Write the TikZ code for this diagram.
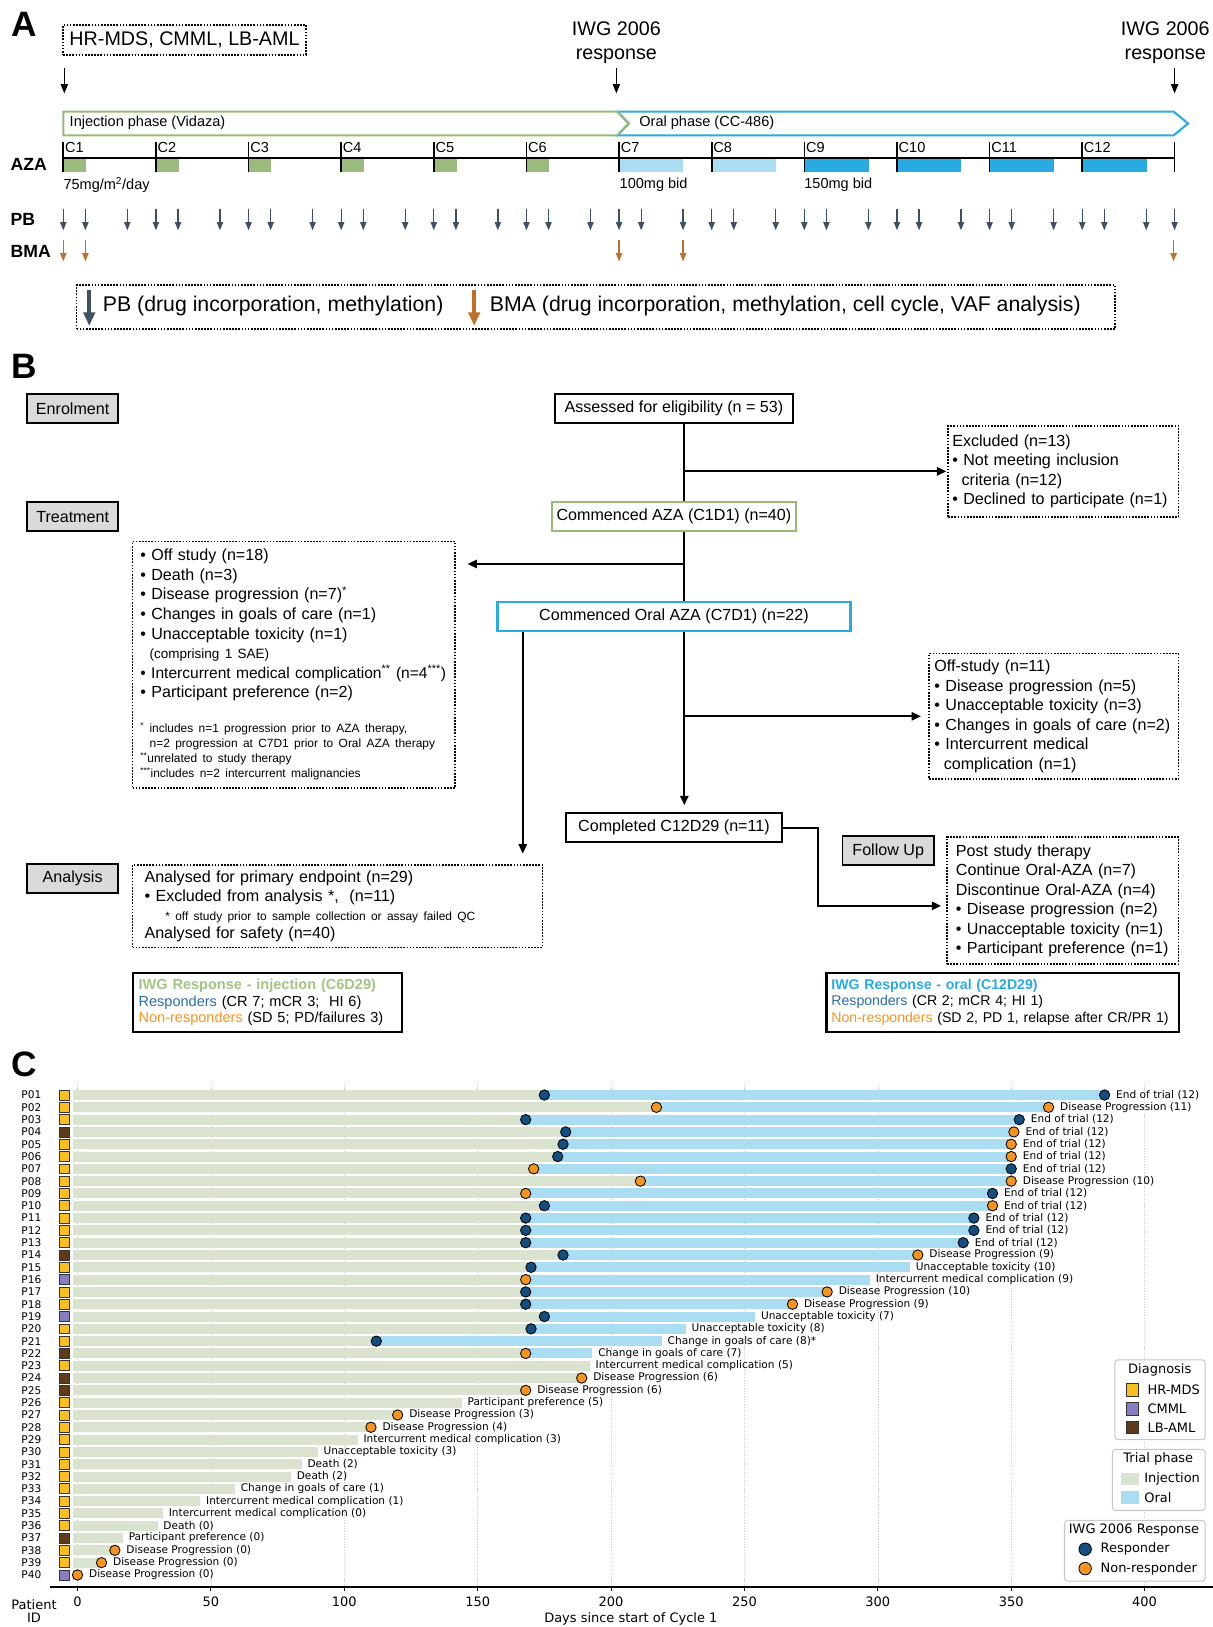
\documentclass[tikz,border=0pt]{standalone}
\usepackage{fontspec}
\setmainfont{Liberation Sans}
\newfontfamily\plotfont{DejaVu Sans}
\usepackage{tikz}
\usetikzlibrary{arrows.meta,positioning,calc}

\definecolor{injgreen}{RGB}{150,186,118}
\definecolor{azagreen}{RGB}{155,187,126}
\definecolor{oralblue}{RGB}{41,171,226}
\definecolor{orallight}{RGB}{170,221,242}
\definecolor{pbslate}{RGB}{62,80,100}
\definecolor{bmabrown}{RGB}{192,112,40}
\definecolor{stagegray}{RGB}{218,218,218}
\definecolor{respblue}{RGB}{20,78,128}
\definecolor{nonrorange}{RGB}{247,148,29}
\definecolor{txtgreen}{RGB}{160,196,130}
\definecolor{txtblue}{RGB}{46,108,165}
\definecolor{barinj}{RGB}{218,227,207}
\definecolor{baroral}{RGB}{170,220,242}
\definecolor{hrmds}{RGB}{250,190,30}
\definecolor{cmml}{RGB}{136,125,192}
\definecolor{lbaml}{RGB}{92,58,26}
\definecolor{gridgray}{RGB}{200,200,200}

\newcommand\fsPanel{\fontsize{34}{36}\selectfont\bfseries}
\newcommand\fsBig{\fontsize{19}{23}\selectfont}
\newcommand\fsKey{\fontsize{20.5}{24}\selectfont}
\newcommand\fsMid{\fontsize{14}{17}\selectfont}
\newcommand\fsRow{\fontsize{17}{20}\selectfont\bfseries}
\newcommand\fsFlow{\fontsize{15.5}{18.8}\selectfont}
\newcommand\fsSub{\fontsize{13}{15}\selectfont}
\newcommand\fsNote{\fontsize{11.5}{14.5}\selectfont}
\newcommand\fsIwg{\fontsize{14}{16.2}\selectfont}
\newcommand\fsPlot{\plotfont\fontsize{10.2}{12}\selectfont}
\newcommand\fsAxis{\plotfont\fontsize{12.5}{15}\selectfont}

\tikzset{
  panellabel/.style={anchor=west, inner sep=0pt, font=\fsPanel},
  rowlab/.style={anchor=west, inner sep=0pt, font=\fsRow},
  dotbox/.style={
    rectangle,
    draw=black,
    line width=1.6pt,
    dash pattern=on 1.6pt off 1.4pt,
    align=left,
    inner sep=0pt
  },
  flowbox/.style={
    rectangle,
    draw=black,
    line width=1.8pt,
    align=center,
    inner sep=0pt,
    minimum height=28pt,
    font=\fsFlow
  },
  stagebox/.style={
    rectangle,
    draw=black,
    line width=1.8pt,
    fill=stagegray,
    inner sep=0pt,
    minimum width=88pt,
    minimum height=28pt,
    font=\fsFlow
  },
  iwgbox/.style={
    rectangle,
    draw=black,
    line width=2.2pt,
    align=left,
    inner sep=0pt,
    font=\fsIwg
  },
  flowline/.style={-{Triangle[width=8pt,length=9pt]},line width=1.8pt},
  flowjoin/.style={line width=1.8pt},
  markarrow/.style={-{Triangle[width=7pt,length=9pt]},line width=1.3pt},
  pbarrow/.style={-{Triangle[width=6pt,length=8pt]},line width=1.3pt,draw=pbslate,fill=pbslate},
  bmaarrow/.style={-{Triangle[width=6pt,length=8pt]},line width=1.3pt,draw=bmabrown,fill=bmabrown},
  keyarrow/.style={-{Triangle[width=11pt,length=13pt]},line width=4pt},
  tline/.style={line width=1.6pt},
  gridline/.style={draw=gridgray,line width=0.6pt,dash pattern=on 1pt off 1.6pt},
  diagsq/.style={rectangle,draw=black!80,line width=0.7pt,minimum size=9.6pt,inner sep=0pt},
  respdot/.style={circle,draw=black,line width=0.8pt,fill=respblue,minimum size=10pt,inner sep=0pt},
  nonrdot/.style={circle,draw=black,line width=0.8pt,fill=nonrorange,minimum size=10pt,inner sep=0pt},
  clabel/.style={anchor=west,inner sep=0pt,font=\fsPlot},
  pidlab/.style={anchor=east,inner sep=0pt,font=\fsPlot},
  legbox/.style={rectangle,rounded corners=3pt,draw=black!22,line width=1pt,fill=white,inner sep=0pt},
  legtxt/.style={anchor=west,inner sep=0pt,font=\fsAxis}
}

\begin{document}
\begin{tikzpicture}[x=1pt,y=-1pt]
\useasboundingbox (0,0) rectangle (1169,1568);

% ---------- A: study schema
\node[panellabel] (pa) at (11,23) {A};
\node[dotbox, anchor=west, minimum width=234pt, minimum height=29pt, align=center, font=\fsBig] (dxbox) at (60,38.5) {HR-MDS, CMML, LB-AML};
\node[font=\fsBig, align=center] (iwgmid) at (594,41.5) {IWG 2006\\response};
\node[font=\fsBig, align=center] (iwgend) at (1123,41.5) {IWG 2006\\response};
\draw[markarrow] (62,66) -- (62,90);
\draw[markarrow] (594,66) -- (594,90);
\draw[markarrow] (1132,66) -- (1132,90);

\draw[line width=2pt, oralblue] (595,107.5) -- (1131,107.5) -- (1145,119) -- (1131,130.5) -- (595,130.5) -- (606,119) -- cycle;
\draw[line width=2pt, injgreen] (61,107.5) -- (595,107.5) -- (606,119) -- (595,130.5) -- (61,130.5) -- cycle;
\node[anchor=west, inner sep=0pt, font=\fsMid] (injtxt) at (67,118.5) {Injection phase (Vidaza)};
\node[anchor=west, inner sep=0pt, font=\fsMid] (oraltxt) at (616,118.5) {Oral phase (CC-486)};

\node[rowlab] (azalab) at (10,158) {AZA};
\node[rowlab] (pblab) at (10,211) {PB};
\node[rowlab] (bmalab) at (10,242) {BMA};

\foreach \c in {1,...,12}{
  \pgfmathsetmacro\cx{61+89.27*(\c-1)}
  \ifnum\c<7 \fill[azagreen] (\cx,152) rectangle ++(22,14);
  \else\ifnum\c<9 \fill[orallight] (\cx,152) rectangle ++(61.5,14);
  \else \fill[oralblue] (\cx,152) rectangle ++(62,14);\fi\fi
  \draw[tline] (\cx,137) -- (\cx,166);
  \node[anchor=west, inner sep=0pt, font=\fsMid] (cyc\c) at (\cx+1.5,142.5) {C\c};
  \draw[pbarrow] (\cx,201) -- (\cx,222);
  \draw[pbarrow] (\cx+21.3,201) -- (\cx+21.3,222);
  \draw[pbarrow] (\cx+61.7,201) -- (\cx+61.7,222);
}
\draw[tline] (61,152) -- (1132,152);
\draw[tline] (1132,137) -- (1132,166);
\draw[pbarrow] (1132,201) -- (1132,222);
\foreach \bx in {61,82.3,596.6,658.3,1131}
  \draw[bmaarrow] (\bx,231) -- (\bx,252);

\node[anchor=west, inner sep=0pt, font=\fsMid] (dose1) at (61,178) {75mg/m\textsuperscript{2}/day};
\node[anchor=west, inner sep=0pt, font=\fsMid] (dose2) at (597,178) {100mg bid};
\node[anchor=west, inner sep=0pt, font=\fsMid] (dose3) at (775,178) {150mg bid};

\node[dotbox, anchor=north west, minimum width=1001pt, minimum height=42pt] (keybox) at (73,274) {};
\draw[keyarrow, pbslate] (86,279) -- (86,314);
\node[anchor=west, inner sep=0pt, font=\fsKey] (pbkey) at (99,295) {PB (drug incorporation, methylation)};
\draw[keyarrow, bmabrown] (457,279) -- (457,314);
\node[anchor=west, inner sep=0pt, font=\fsKey] (bmakey) at (472,295) {BMA (drug incorporation, methylation, cell cycle, VAF analysis)};

% ---------- B: participant flow
\node[panellabel] (pb) at (11,353) {B};
\node[stagebox] (enrol) at (70,394) {Enrolment};
\node[stagebox] (treat) at (70,498) {Treatment};
\node[stagebox] (analysis) at (70,846.6) {Analysis};
\node[stagebox] (follow) at (856,820) {Follow Up};

\node[flowbox, minimum width=229pt] (assess) at (649.5,394) {Assessed for eligibility (n = 53)};
\node[flowbox, minimum width=235pt, draw=injgreen, line width=2pt] (c1d1) at (649.5,498) {Commenced AZA (C1D1) (n=40)};
\node[flowbox, minimum width=340pt, draw=oralblue, line width=2.4pt] (c7d1) at (649.5,594.3) {Commenced Oral AZA (C7D1) (n=22)};
\node[flowbox, minimum width=207.5pt] (complete) at (649.5,797.8) {Completed C12D29 (n=11)};

\node[dotbox, anchor=north west, minimum width=222pt, minimum height=87.7pt, text width=214pt, font=\fsFlow] (excl) at (913,409.6) {%
Excluded (n=13)\\
\textbullet\ Not meeting inclusion\\
\hspace*{9pt}criteria (n=12)\\
\textbullet\ Declined to participate (n=1)};

\node[dotbox, anchor=north west, minimum width=311pt, minimum height=237.7pt, text width=296pt, font=\fsFlow] (offl) at (127,521) {%
\textbullet\ Off study (n=18)\\
\textbullet\ Death (n=3)\\
\textbullet\ Disease progression (n=7)\textsuperscript{*}\\
\textbullet\ Changes in goals of care (n=1)\\
\textbullet\ Unacceptable toxicity (n=1)\\
\hspace*{9pt}{\fsSub (comprising 1 SAE)}\\
\mbox{\fontsize{15}{18.8}\selectfont\textbullet\ Intercurrent medical complication\textsuperscript{**} (n=4\textsuperscript{***})}\\
\textbullet\ Participant preference (n=2)\\[15pt]
{\fsNote\textsuperscript{*} includes n=1 progression prior to AZA therapy,}\\[-4.3pt]
{\fsNote\hspace*{9pt}n=2 progression at C7D1 prior to Oral AZA therapy}\\[-4.3pt]
{\fsNote\textsuperscript{**}unrelated to study therapy}\\[-4.3pt]
{\fsNote\textsuperscript{***}includes n=2 intercurrent malignancies}};

\node[dotbox, anchor=north west, minimum width=240.5pt, minimum height=121pt, text width=230pt, font=\fsFlow] (offr) at (894.5,629) {%
Off-study (n=11)\\
\textbullet\ Disease progression (n=5)\\
\textbullet\ Unacceptable toxicity (n=3)\\
\textbullet\ Changes in goals of care (n=2)\\
\textbullet\ Intercurrent medical\\
\hspace*{9pt}complication (n=1)};

\node[dotbox, anchor=north west, minimum width=223pt, minimum height=122.4pt, text width=206pt, font=\fsFlow] (post) at (912,806) {%
Post study therapy\\
Continue Oral-AZA (n=7)\\
Discontinue Oral-AZA (n=4)\\
\textbullet\ Disease progression (n=2)\\
\textbullet\ Unacceptable toxicity (n=1)\\
\textbullet\ Participant preference (n=1)};

\node[dotbox, anchor=north west, minimum width=395pt, minimum height=79.7pt, text width=372pt, font=\fsFlow] (anl) at (127,832.6) {%
Analysed for primary endpoint (n=29)\\
\textbullet\ Excluded from analysis *,\ \ (n=11)\\[-1pt]
{\fsNote\hspace*{20pt}* off study prior to sample collection or assay failed QC}\\[-1pt]
Analysed for safety (n=40)};

\node[iwgbox, anchor=north west, minimum width=259pt, minimum height=56.8pt, text width=248pt] (iwgi) at (127,936.4) {%
{\bfseries\color{txtgreen}IWG Response - injection (C6D29)}\\
{\color{txtblue}Responders} (CR 7; mCR 3;\ \ HI 6)\\
{\color{nonrorange}Non-responders} (SD 5; PD/failures 3)};

\node[iwgbox, anchor=north west, minimum width=339.7pt, minimum height=56.8pt, text width=330pt, font=\fontsize{13.6}{16.2}\selectfont] (iwgo) at (795.3,936.4) {%
{\bfseries\color{oralblue}IWG Response - oral (C12D29)}\\
{\color{txtblue}Responders} (CR 2; mCR 4; HI 1)\\
\mbox{{\color{nonrorange}Non-responders} (SD 2, PD 1, relapse after CR/PR 1)}};

\coordinate (tk) at (659.5,0);
\coordinate (brl) at (659.5,543.5);
\coordinate (dl) at (503.8,0);
\coordinate (fu) at (788.5,873);
\draw[flowjoin] (assess.south -| tk) -- (c1d1.north -| tk);
\draw[flowline, shorten >=1pt] (tk |- excl.west) -- (excl.west);
\draw[flowjoin] (c1d1.south -| tk) -- (c7d1.north -| tk);
\draw[flowline, shorten >=11pt] (brl) -- (offl.east |- brl);
\draw[flowline, shorten >=7pt] (c7d1.south -| tk) -- (complete.north -| tk);
\draw[flowline, shorten >=7pt] (tk |- offr.west) -- (offr.west);
\draw[flowline, shorten >=10pt] (c7d1.south -| dl) -- (anl.north -| dl);
\draw[flowline, shorten >=5pt] (complete.east) -| (fu) -- (post.west |- fu);

% ---------- C: swimmer plot
\node[panellabel] (pc) at (11,1026) {C};
\node[font=\fsAxis, align=center] (pidtitle) at (32.8,1553) {Patient\\[-2.5pt]ID};
\begin{scope}[x=2.571pt, xshift=74.7pt]
  \foreach \d in {0,50,...,400}{
    \draw[gridline] (\d,1043.8) -- (\d,1529.4);
    \draw[line width=0.8pt] (\d,1529.4) -- (\d,1533.5);
    \node[font=\fsAxis] (xt\d) at (\d,1543.5) {\d};
  }
  \draw[line width=1.4pt] (-10.4,1529.4) -- (425.6,1529.4);
  \node[font=\fsAxis] (xlab) at (207.4,1560.5) {Days since start of Cycle 1};

  \foreach \pn/\dg/\inj/\oral/\mm/\fm/\ltxt in {
    1/hrmds/175/385/1/1/End of trial (12),
    2/hrmds/217/364/2/2/Disease Progression (11),
    3/hrmds/168/353/1/1/End of trial (12),
    4/lbaml/183/351/1/2/End of trial (12),
    5/hrmds/182/350/1/2/End of trial (12),
    6/hrmds/180/350/1/2/End of trial (12),
    7/hrmds/171/350/2/1/End of trial (12),
    8/hrmds/211/350/2/2/Disease Progression (10),
    9/hrmds/168/343/2/1/End of trial (12),
    10/hrmds/175/343/1/2/End of trial (12),
    11/hrmds/168/336/1/1/End of trial (12),
    12/hrmds/168/336/1/1/End of trial (12),
    13/hrmds/168/332/1/1/End of trial (12),
    14/lbaml/182/315/1/2/Disease Progression (9),
    15/hrmds/170/312/1/0/Unacceptable toxicity (10),
    16/cmml/168/297/2/0/Intercurrent medical complication (9),
    17/hrmds/168/281/1/2/Disease Progression (10),
    18/hrmds/168/268/1/2/Disease Progression (9),
    19/cmml/175/254/1/0/Unacceptable toxicity (7),
    20/hrmds/170/228/1/0/Unacceptable toxicity (8),
    21/hrmds/112/219/1/0/Change in goals of care (8)*,
    22/lbaml/168/193/2/0/Change in goals of care (7),
    23/hrmds/192/192/0/0/Intercurrent medical complication (5),
    24/lbaml/189/189/0/2/Disease Progression (6),
    25/lbaml/168/168/0/2/Disease Progression (6),
    26/hrmds/144/144/0/0/Participant preference (5),
    27/hrmds/120/120/0/2/Disease Progression (3),
    28/hrmds/110/110/0/2/Disease Progression (4),
    29/hrmds/105/105/0/0/Intercurrent medical complication (3),
    30/hrmds/90/90/0/0/Unacceptable toxicity (3),
    31/hrmds/84/84/0/0/Death (2),
    32/hrmds/80/80/0/0/Death (2),
    33/hrmds/59/59/0/0/Change in goals of care (1),
    34/hrmds/46/46/0/0/Intercurrent medical complication (1),
    35/hrmds/32/32/0/0/Intercurrent medical complication (0),
    36/hrmds/30/30/0/0/Death (0),
    37/lbaml/17/17/0/0/Participant preference (0),
    38/hrmds/14/14/0/2/Disease Progression (0),
    39/hrmds/9/9/0/2/Disease Progression (0),
    40/cmml/0/0/0/2/Disease Progression (0)}{
    \pgfmathsetmacro\ry{1055.3+11.86*(\pn-1)}
    \pgfmathsetmacro\loff{\fm>0 ? 11 : 5.5}
    \fill[barinj] (-1.7,\ry-4.8) rectangle (\inj,\ry+4.8);
    \fill[baroral] (\inj,\ry-4.8) rectangle (\oral,\ry+4.8);
    \node[diagsq, fill=\dg] (dx\pn) at (-4.94,\ry) {};
    \node[pidlab] (pid\pn) at (-13.5,\ry) {P\ifnum\pn<10 0\fi\pn};
    \ifnum\mm=1 \node[respdot] (mk\pn) at (\inj,\ry) {};\fi
    \ifnum\mm=2 \node[nonrdot] (mk\pn) at (\inj,\ry) {};\fi
    \ifnum\fm=1 \node[respdot] (fin\pn) at (\oral,\ry) {};\fi
    \ifnum\fm=2 \node[nonrdot] (fin\pn) at (\oral,\ry) {};\fi
    \node[clabel, xshift=\loff pt] (lab\pn) at (\oral,\ry) {\ltxt};
  }
\end{scope}

% legends
\node[legbox, anchor=north west, minimum width=87pt, minimum height=77pt] (legdx) at (1074,1310) {};
\node[font=\fsAxis] (legdxt) at (1117.7,1320.3) {Diagnosis};
\foreach \y/\col/\nm in {1339.6/hrmds/HR-MDS,1357.8/cmml/CMML,1375.5/lbaml/LB-AML}{
  \node[diagsq, fill=\col, minimum size=12pt] (sq\nm) at (1091.3,\y) {};
  \node[legtxt] (lt\nm) at (1105.7,\y) {\nm};
}
\node[legbox, anchor=north west, minimum width=89.4pt, minimum height=58.8pt] (legph) at (1071.6,1396.4) {};
\node[font=\fsAxis] (legpht) at (1116.3,1406.4) {Trial phase};
\fill[barinj] (1080,1419.3) rectangle (1097.4,1431.3);
\node[legtxt] (ltinj) at (1102.6,1425.3) {Injection};
\fill[baroral] (1080,1437.3) rectangle (1097.4,1449.3);
\node[legtxt] (ltoral) at (1102.6,1443.3) {Oral};
\node[legbox, anchor=north west, minimum width=135.6pt, minimum height=58.5pt] (legiwg) at (1025.4,1464.8) {};
\node[font=\fsAxis] (legiwgt) at (1092.9,1474.5) {IWG 2006 Response};
\node[respdot, minimum size=12pt] (lgresp) at (1045.8,1493) {};
\node[legtxt] (ltresp) at (1060.5,1493) {Responder};
\node[nonrdot, minimum size=12pt] (lgnonr) at (1045.8,1511.7) {};
\node[legtxt] (ltnonr) at (1060.5,1511.7) {Non-responder};
\end{tikzpicture}
\end{document}
